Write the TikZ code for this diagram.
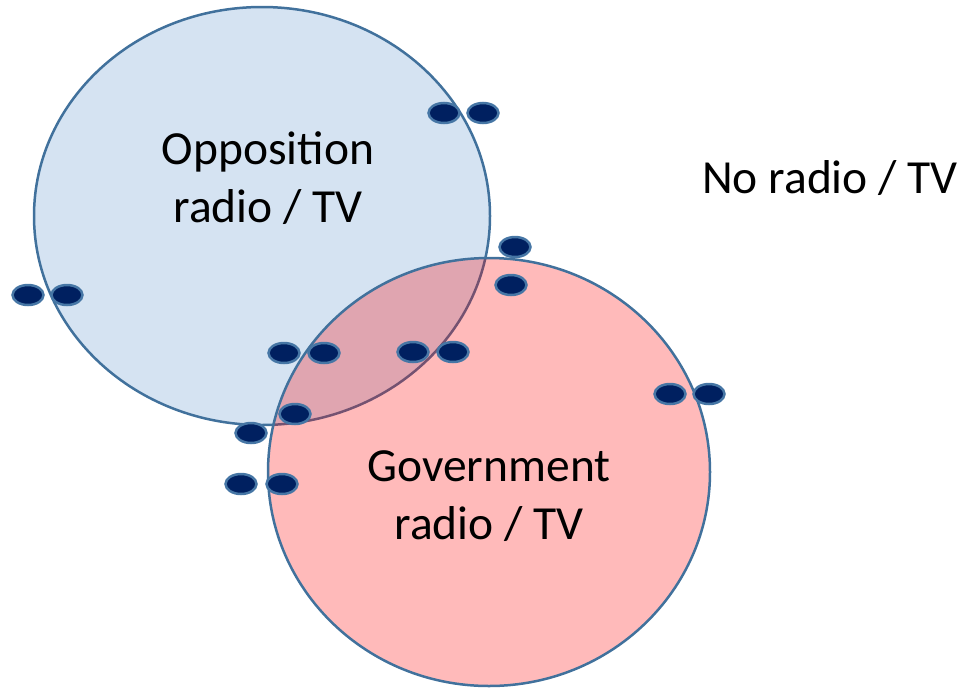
\documentclass[tikz,border=0pt]{standalone}
\usepackage{fontspec}
\setmainfont{Carlito}
\usetikzlibrary{shapes.geometric}
\definecolor{edgeblue}{RGB}{65,113,156}
\definecolor{fillblue}{RGB}{213,227,242}
\definecolor{dotnavy}{RGB}{0,32,96}
\definecolor{dotedge}{RGB}{70,118,165}
\tikzset{
  dot/.style={ellipse,draw=dotedge,line width=2.5pt,fill=dotnavy,minimum width=31pt,minimum height=20pt,inner sep=0pt},
  lbl/.style={font=\fontsize{47.5}{58}\selectfont,align=center,text=black}
}
\begin{document}
\begin{tikzpicture}[x=1pt,y=-1pt]
\useasboundingbox (0,0) rectangle (965,688);
% blue ellipse
\draw[edgeblue,line width=2.5pt,fill=fillblue] (262,216) ellipse [x radius=228,y radius=209];
% red circle
\fill[red,fill opacity=0.27] (489,472) ellipse [x radius=221,y radius=214];
\draw[edgeblue,line width=2.5pt] (489,472) ellipse [x radius=221,y radius=214];
% labels
\node[lbl] (opp) at (268,178) {Opposition\\radio / TV};
\node[lbl] (gov) at (489,496) {Government\\radio / TV};
\node[lbl] (none) at (830,178) {No radio / TV};
% dots
\node[dot] (a1) at (444,113) {};
\node[dot] (a2) at (483,113) {};
\node[dot] (b1) at (515,247) {};
\node[dot] (b2) at (511,285) {};
\node[dot] (c1) at (28,295) {};
\node[dot] (c2) at (67,295) {};
\node[dot] (d1) at (284,353) {};
\node[dot] (d2) at (324,353) {};
\node[dot] (e1) at (413,352) {};
\node[dot] (e2) at (453,352) {};
\node[dot] (f1) at (295,414) {};
\node[dot] (f2) at (251,433) {};
\node[dot] (g1) at (241,484) {};
\node[dot] (g2) at (282,484) {};
\node[dot] (h1) at (670,394) {};
\node[dot] (h2) at (709,394) {};
\end{tikzpicture}
\end{document}
